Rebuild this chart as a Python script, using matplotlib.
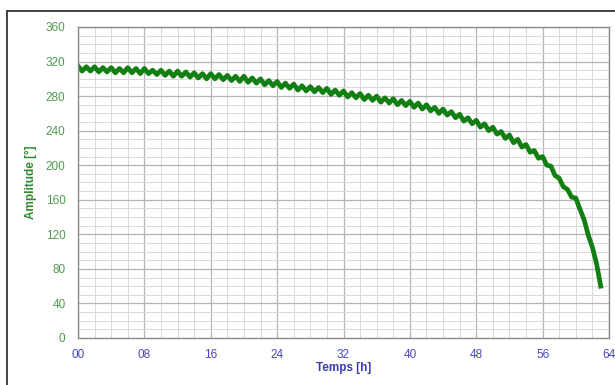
import numpy as np
import matplotlib.pyplot as plt
from matplotlib.patches import Rectangle
from matplotlib.ticker import MultipleLocator

plt.rcParams['font.family'] = ['Liberation Sans', 'DejaVu Sans']

# time axis in hours, 0.5 h steps
time_h = np.arange(0, 63.01, 0.5)
amplitude = [
    315, 309, 314, 309, 314, 308, 313, 308,
    313, 307, 312, 307, 313, 307, 312, 306,
    312, 306, 310, 305, 310, 304, 309, 303,
    309, 303, 308, 302, 307, 301, 306, 300,
    306, 300, 305, 299, 304, 298, 303, 297,
    303, 296, 301, 295, 300, 293, 298, 292,
    297, 290, 295, 289, 294, 287, 292, 286,
    291, 285, 290, 284, 289, 282, 287, 281,
    286, 279, 284, 278, 283, 276, 281, 275,
    280, 273, 278, 272, 277, 270, 275, 269,
    274, 267, 272, 265, 270, 263, 267, 260,
    265, 258, 262, 255, 259, 251, 255, 248,
    252, 244, 248, 240, 244, 236, 239, 231,
    235, 226, 230, 221, 224, 215, 217, 208,
    210, 200, 199, 188, 185, 175, 172, 163,
    162, 149, 137, 119, 105, 86, 60,
]

x_ticks = np.arange(0, 65, 8)
x_labels = ["%02d" % v for v in x_ticks]
y_ticks = np.arange(0, 361, 40)

fig = plt.figure(figsize=(6.15, 3.85), dpi=100)
# outer frame (only top/left edges visible in the crop)
fig.patches.append(Rectangle((7 / 615, -0.1), 1.2, (385 - 11) / 385 + 0.1,
                             transform=fig.transFigure, fill=False,
                             edgecolor='#333333', lw=1.3))

ax = fig.add_axes([78 / 615, 47 / 385, 531 / 615, 311 / 385])
ax.plot(time_h, amplitude, color='#127f12', lw=3.4)

ax.set_xlim(0, 64)
ax.set_ylim(0, 360)
ax.set_xticks(x_ticks)
ax.set_xticklabels(x_labels)
ax.set_yticks(y_ticks)
ax.xaxis.set_minor_locator(MultipleLocator(2))
ax.yaxis.set_minor_locator(MultipleLocator(10))
ax.grid(which='major', color='#b4b4b4', lw=0.9)
ax.grid(which='minor', color='#d8d8d8', lw=0.7)
ax.set_axisbelow(True)
ax.tick_params(which='both', length=0)
ax.tick_params(axis='x', colors='#4646c0', labelsize=8.5, pad=8)
ax.tick_params(axis='y', colors='#4f9a4f', labelsize=8.5, pad=9)
for s in ax.spines.values():
    s.set_color('#8c8c8c')
    s.set_linewidth(1.0)

ax.set_xlabel("Temps [h]", color='#3c3cb4', fontsize=8.5, fontweight='bold', labelpad=1)
ax.set_ylabel("Amplitude [°]", color='#2e8a2e', fontsize=8.5, fontweight='bold', labelpad=6)

fig.savefig("out.png", dpi=100)
